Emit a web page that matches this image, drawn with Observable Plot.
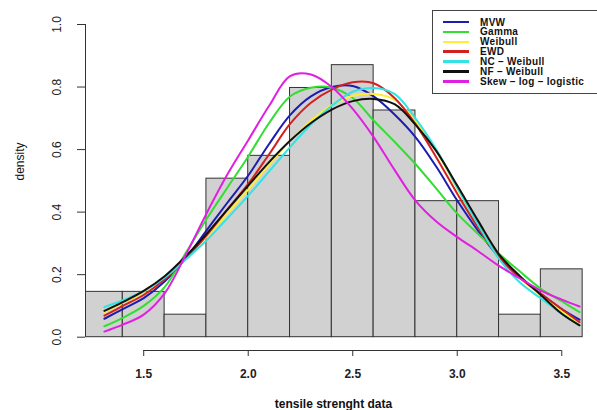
<!DOCTYPE html>
<html>
<head>
<meta charset="utf-8">
<script src="https://cdn.jsdelivr.net/npm/d3@7"></script>
<script src="https://cdn.jsdelivr.net/npm/@observablehq/plot@0.6"></script>
<style>
  html, body { margin: 0; padding: 0; background: #fff; overflow: hidden; }
  #wrap { position: relative; width: 597px; height: 410px; font-family: "Liberation Sans", Arial, sans-serif; }
  #legend { position: absolute; left: 432px; top: 10px; width: 200px; height: 84px; border: 1px solid #444; background: #fff; box-sizing: border-box; }
  .row { position: absolute; left: 0; height: 10px; display: flex; align-items: center; }
  .sw { width: 26px; height: 2.5px; margin-left: 10px; margin-right: 11px; }
  .lab { font-size: 10px; font-weight: bold; letter-spacing: 0.3px; color: #111; line-height: 9px; white-space: nowrap; }
</style>
</head>
<body>
<div id="wrap"></div>
<script>
// ---- data ----
const names = ["MVW", "Gamma", "Weibull", "EWD", "NC \u2013 Weibull", "NF \u2013 Weibull", "Skew \u2013 log \u2013 logistic"];
const colors = ["#1c1cb0", "#33dd33", "#ffee33", "#d42020", "#33e3e3", "#111111", "#e020e0"];

const binEdges = [1.2, 1.4, 1.6, 1.8, 2.0, 2.2, 2.4, 2.6, 2.8, 3.0, 3.2, 3.4, 3.6];
const binDensity = [0.145, 0.145, 0.072, 0.507, 0.580, 0.797, 0.870, 0.725, 0.435, 0.435, 0.072, 0.217];

const xs = [1.312, 1.4, 1.5, 1.6, 1.7, 1.8, 1.9, 2.0, 2.1, 2.2, 2.3, 2.4, 2.5, 2.6, 2.7, 2.8, 2.9, 3.0, 3.1, 3.2, 3.3, 3.4, 3.5, 3.585];
const mvw    = [0.059, 0.090, 0.125, 0.178, 0.252, 0.341, 0.430, 0.517, 0.618, 0.710, 0.770, 0.800, 0.803, 0.770, 0.712, 0.640, 0.545, 0.437, 0.340, 0.256, 0.190, 0.139, 0.090, 0.056];
const gamma  = [0.035, 0.062, 0.100, 0.160, 0.268, 0.377, 0.478, 0.578, 0.685, 0.770, 0.798, 0.798, 0.765, 0.693, 0.625, 0.554, 0.475, 0.395, 0.330, 0.267, 0.210, 0.155, 0.115, 0.080];
const weib   = [0.080, 0.110, 0.145, 0.192, 0.255, 0.320, 0.395, 0.472, 0.552, 0.628, 0.692, 0.742, 0.772, 0.778, 0.760, 0.690, 0.595, 0.475, 0.365, 0.265, 0.190, 0.134, 0.082, 0.043];
const ewd    = [0.069, 0.100, 0.135, 0.185, 0.250, 0.325, 0.408, 0.490, 0.585, 0.682, 0.750, 0.792, 0.815, 0.812, 0.765, 0.682, 0.575, 0.459, 0.350, 0.256, 0.190, 0.139, 0.090, 0.048];
const ncw    = [0.096, 0.118, 0.147, 0.190, 0.248, 0.309, 0.380, 0.453, 0.530, 0.608, 0.680, 0.740, 0.785, 0.797, 0.778, 0.700, 0.600, 0.478, 0.360, 0.250, 0.175, 0.124, 0.075, 0.038];
const nfw    = [0.084, 0.112, 0.148, 0.195, 0.258, 0.330, 0.408, 0.485, 0.560, 0.628, 0.685, 0.728, 0.755, 0.762, 0.745, 0.680, 0.595, 0.485, 0.372, 0.265, 0.195, 0.135, 0.075, 0.038];
const sll    = [0.018, 0.040, 0.072, 0.140, 0.262, 0.395, 0.520, 0.630, 0.740, 0.835, 0.840, 0.800, 0.730, 0.640, 0.535, 0.437, 0.370, 0.320, 0.275, 0.228, 0.188, 0.149, 0.120, 0.098];

const xTicks = [1.5, 2.0, 2.5, 3.0, 3.5];
const yTicks = [0.0, 0.2, 0.4, 0.6, 0.8, 1.0];
const xMin = 1.2215, xMax = 3.671;
const xLabel = "tensile strenght data";
const yLabel = "density";

// ---- build tables ----
const bins = binDensity.map((d, i) => ({x1: binEdges[i], x2: binEdges[i + 1], d}));
const seriesVals = [mvw, gamma, weib, ewd, ncw, nfw, sll];
const curves = [];
seriesVals.forEach((vals, k) => vals.forEach((v, i) => curves.push({series: names[k], x: xs[i], y: v})));

const fmt = d3.format(".1f");
const INSET = 13.3;

const chart = Plot.plot({
  width: 597,
  height: 410,
  marginLeft: 85,
  marginRight: 0,
  marginTop: 24,
  marginBottom: 60,
  insetBottom: INSET,
  x: {domain: [xMin, xMax]},
  y: {domain: [0, 1]},
  color: {domain: names, range: colors},
  style: {fontFamily: "'Liberation Sans', Arial, sans-serif", fontSize: "12px", background: "white", color: "#222"},
  marks: [
    Plot.rectY(bins, {x1: "x1", x2: "x2", y: "d", fill: "#d1d1d1", stroke: "#333", strokeWidth: 1, clip: true}),
    Plot.line(curves, {x: "x", y: "y", z: "series", stroke: "series", strokeWidth: 2, curve: "catmull-rom"}),
    // y axis (R style)
    Plot.ruleX([xMin], {y1: yTicks[0], y2: yTicks[yTicks.length - 1], stroke: "#333"}),
    Plot.axisY({ticks: yTicks, tickSize: 8, text: null, label: null, stroke: "#333"}),
    Plot.text(yTicks, {y: d => d, text: d => fmt(d), frameAnchor: "left", rotate: -90, dx: -28, textAnchor: "middle", lineAnchor: "middle", fontSize: 12, fill: "#222"}),
    // x axis (R style)
    Plot.ruleY([0], {x1: xTicks[0], x2: xTicks[xTicks.length - 1], dy: INSET, stroke: "#333"}),
    Plot.axisX({ticks: xTicks, tickSize: 6, tickPadding: 13, tickFormat: fmt, label: null, fontWeight: "bold", fontSize: 12, stroke: "#333"}),
    // axis titles
    Plot.text([xLabel], {frameAnchor: "bottom", dx: -8, dy: 54, fontWeight: "bold", fontSize: 12, lineAnchor: "middle", fill: "#111"}),
    Plot.text([yLabel], {frameAnchor: "left", rotate: -90, dx: -65, dy: -7, fontSize: 12, lineAnchor: "middle", fill: "#111"})
  ]
});

const wrap = document.getElementById("wrap");
wrap.appendChild(chart);

// legend
const legend = document.createElement("div");
legend.id = "legend";
names.forEach((n, i) => {
  const row = document.createElement("div");
  row.className = "row";
  row.style.top = (6 + i * 9.9) + "px";
  const sw = document.createElement("div");
  sw.className = "sw";
  sw.style.background = colors[i];
  const lab = document.createElement("span");
  lab.className = "lab";
  lab.textContent = n;
  row.appendChild(sw);
  row.appendChild(lab);
  legend.appendChild(row);
});
wrap.appendChild(legend);
</script>
</body>
</html>
